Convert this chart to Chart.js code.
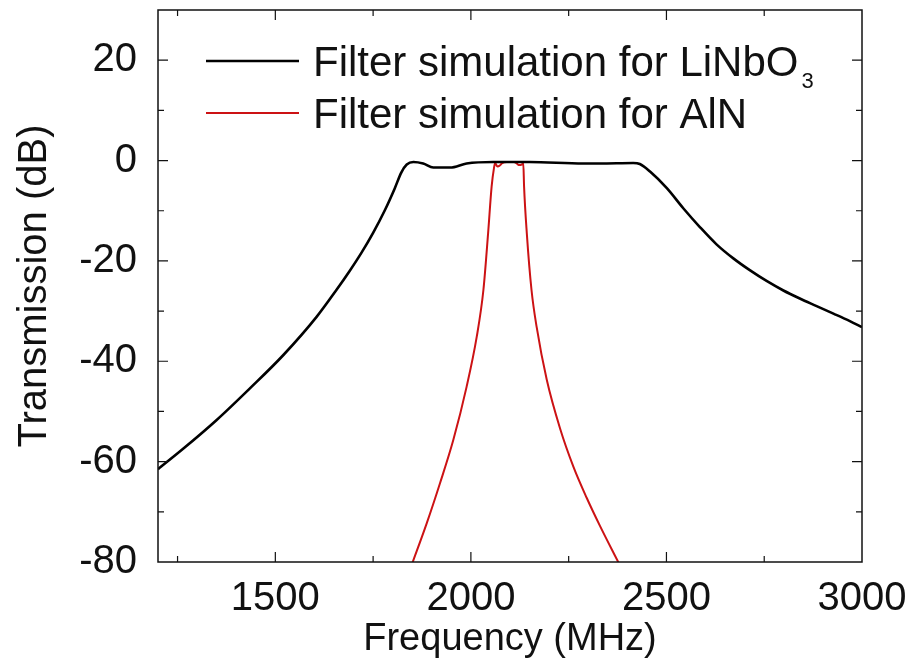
<!DOCTYPE html>
<html>
<head>
<meta charset="utf-8">
<script src="https://cdn.jsdelivr.net/npm/chart.js@4.4.0/dist/chart.umd.min.js"></script>
<style>
  body { margin: 0; background: #fff; }
  #wrap { width: 910px; height: 661px; position: relative; }
</style>
</head>
<body>
<div id="wrap"><canvas id="chart"></canvas></div>
<script>
// LiNbO3 filter response
let linbo3_freq = [1200, 1265, 1350, 1435, 1520, 1606, 1657, 1690, 1720, 1750, 1780, 1805, 1822, 1836, 1853, 1878, 1904, 1947, 1989, 2057, 2150, 2287, 2330, 2415, 2432, 2458, 2501, 2543, 2586, 2628, 2671, 2714, 2756, 2799, 2841, 2884, 2927, 2969, 3000];
let linbo3_db = [-61.5, -57.4, -51.7, -45.4, -38.8, -31.1, -25.7, -22.0, -18.4, -14.4, -9.9, -5.6, -2.4, -0.8, -0.3, -0.6, -1.4, -1.4, -0.6, -0.3, -0.3, -0.6, -0.6, -0.5, -0.7, -2.2, -5.5, -9.5, -13.3, -16.7, -19.5, -21.9, -24.0, -25.9, -27.5, -29.0, -30.5, -32.0, -33.2];

// AlN filter response
let aln_freq = [1849, 1887, 1921, 1955, 1989, 2015, 2032, 2044, 2053, 2059, 2062, 2068, 2074, 2080, 2092, 2109, 2118, 2122, 2130, 2134, 2136, 2143, 2155, 2168, 2194, 2228, 2262, 2296, 2330, 2378];
let aln_db = [-80.5, -72.3, -64.3, -55.7, -45.1, -35.1, -25.8, -14.5, -5.2, -1.5, -0.5, -1.2, -1.0, -0.5, -0.3, -0.3, -0.6, -0.9, -0.8, -0.5, -5.2, -14.5, -25.8, -33.1, -43.7, -53.4, -61.0, -67.2, -72.8, -80.2];

let x_ticks = [1500, 2000, 2500, 3000];
let y_ticks = [-80, -60, -40, -20, 0, 20];

let font_family = "'Liberation Sans', Arial, Helvetica, sans-serif";
let color_linbo3 = "#000000";
let color_aln = "rgb(204, 18, 20)";

function toPoints(xs, ys) {
  let pts = [];
  for (let i = 0; i < xs.length; i++) {
    pts.push({ x: xs[i], y: ys[i] });
  }
  return pts;
}

// frame + inward ticks on all four sides
let framePlugin = {
  id: "frame",
  afterDatasetsDraw(chart) {
    let ctx = chart.ctx;
    let a = chart.chartArea;
    let xs = chart.scales.x;
    let ys = chart.scales.y;
    ctx.save();
    ctx.strokeStyle = "#111";
    ctx.lineWidth = 1.5;
    ctx.strokeRect(a.left, a.top, a.right - a.left, a.bottom - a.top);
    ctx.beginPath();
    for (let v = 1250; v < 3000; v += 250) {
      let px = xs.getPixelForValue(v);
      let len = x_ticks.indexOf(v) >= 0 ? 10 : 6;
      ctx.moveTo(px, a.bottom);
      ctx.lineTo(px, a.bottom - len);
      ctx.moveTo(px, a.top);
      ctx.lineTo(px, a.top + len);
    }
    for (let v = -70; v < 30; v += 10) {
      let py = ys.getPixelForValue(v);
      let len = y_ticks.indexOf(v) >= 0 ? 10 : 6;
      ctx.moveTo(a.left, py);
      ctx.lineTo(a.left + len, py);
      ctx.moveTo(a.right, py);
      ctx.lineTo(a.right - len, py);
    }
    ctx.lineWidth = 1.2;
    ctx.stroke();
    ctx.restore();
  },
};

// legend drawn by hand so the subscript in LiNbO3 renders properly
let legendPlugin = {
  id: "handLegend",
  afterDraw(chart) {
    let ctx = chart.ctx;
    let rows = [
      { y: 61, base: 76, color: color_linbo3, width: 2.5, text: "Filter simulation for LiNbO", sub: "3" },
      { y: 113, base: 128, color: color_aln, width: 2, text: "Filter simulation for AlN", sub: "" },
    ];
    ctx.save();
    rows.forEach((r) => {
      ctx.strokeStyle = r.color;
      ctx.lineWidth = r.width;
      ctx.beginPath();
      ctx.moveTo(206, r.y);
      ctx.lineTo(299, r.y);
      ctx.stroke();
      ctx.fillStyle = "#111";
      ctx.textBaseline = "alphabetic";
      ctx.textAlign = "left";
      ctx.font = "42px " + font_family;
      ctx.fillText(r.text, 313, r.base);
      if (r.sub) {
        let w = ctx.measureText(r.text).width;
        ctx.font = "22px " + font_family;
        ctx.fillText(r.sub, 313 + w + 3, r.base + 12);
      }
    });
    ctx.restore();
  },
};

let config = {
  type: "line",
  data: {
    datasets: [
      {
        label: "Filter simulation for LiNbO3",
        data: toPoints(linbo3_freq, linbo3_db),
        borderColor: color_linbo3,
        backgroundColor: color_linbo3,
        borderWidth: 2.6,
        pointRadius: 0,
        cubicInterpolationMode: "monotone",
      },
      {
        label: "Filter simulation for AlN",
        data: toPoints(aln_freq, aln_db),
        borderColor: color_aln,
        backgroundColor: color_aln,
        borderWidth: 2,
        pointRadius: 0,
        cubicInterpolationMode: "monotone",
      },
    ],
  },
  options: {
    responsive: true,
    maintainAspectRatio: false,
    animation: false,
    layout: { padding: { top: 10, right: 48, left: 0, bottom: 0 } },
    plugins: {
      legend: { display: false },
      tooltip: { enabled: false },
    },
    scales: {
      x: {
        type: "linear",
        min: 1200,
        max: 3000,
        afterFit: (s) => {
          s.height = 99;
          s.paddingLeft = 0;
          s.paddingRight = 0;
        },
        afterBuildTicks: (s) => {
          s.ticks = x_ticks.map((v) => ({ value: v }));
        },
        ticks: {
          color: "#111",
          padding: 5,
          maxRotation: 0,
          font: { family: font_family, size: 40 },
          callback: (v) => String(v),
        },
        grid: { display: false },
        border: { display: false },
        title: {
          display: true,
          text: "Frequency (MHz)",
          color: "#111",
          font: { family: font_family, size: 38, lineHeight: 1 },
          padding: { top: 0, bottom: 2 },
        },
      },
      y: {
        type: "linear",
        min: -80,
        max: 30,
        afterFit: (s) => {
          s.width = 158;
          s.paddingTop = 0;
          s.paddingBottom = 0;
        },
        afterBuildTicks: (s) => {
          s.ticks = y_ticks.map((v) => ({ value: v }));
        },
        ticks: {
          color: "#111",
          padding: 13,
          font: { family: font_family, size: 40 },
          callback: (v) => String(v),
        },
        grid: { display: false },
        border: { display: false },
        title: {
          display: true,
          text: "Transmission (dB)",
          color: "#111",
          font: { family: font_family, size: 40, lineHeight: 1.2 },
          padding: { top: 11, bottom: 0 },
        },
      },
    },
  },
  plugins: [framePlugin, legendPlugin],
};

let chart = new Chart(document.getElementById("chart"), config);
</script>
</body>
</html>
